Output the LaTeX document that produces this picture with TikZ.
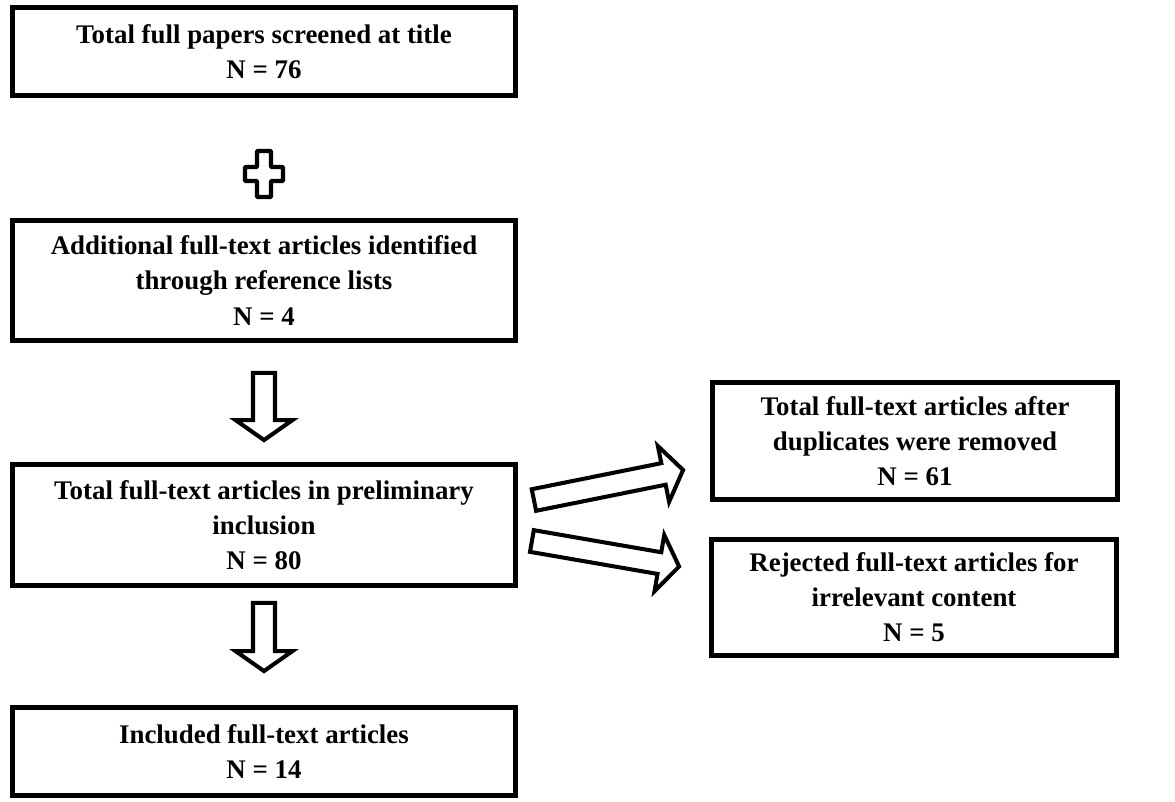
\documentclass[tikz,border=0pt]{standalone}
\usepackage{fontspec}
\setmainfont{Liberation Serif}
\usepackage{tikz}
\usetikzlibrary{calc}
\usetikzlibrary{positioning}

\tikzset{
  flowbox/.style={draw, line width=2.8pt, align=center, inner sep=2pt,
    font=\bfseries\fontsize{15.3}{20}\selectfont},
  leftbox/.style={flowbox, minimum width=10.06cm},
  rightbox/.style={flowbox, minimum width=8.1cm},
  blockarrow/.style={line width=2.3pt, line join=miter, to path={
    ($(\tikztotarget)!0.4cm!(\tikztostart)$) coordinate (ba-base)
    ($(\tikztostart)!0.22cm!90:(\tikztotarget)$) -- ($(ba-base)!0.22cm!90:(\tikztotarget)$)
    -- ($(ba-base)!0.57cm!90:(\tikztotarget)$) -- (\tikztotarget)
    -- ($(ba-base)!0.57cm!-90:(\tikztotarget)$) -- ($(ba-base)!0.22cm!-90:(\tikztotarget)$)
    -- ($(\tikztostart)!0.22cm!-90:(\tikztotarget)$) -- cycle}}
}

\begin{document}
\begin{tikzpicture}[x=0.02cm, y=-0.02cm]
\useasboundingbox (0,0) rectangle (1175,801);

\node[leftbox, minimum height=1.76cm] (total) at (264,51.5)
  {Total full papers screened at title\\N = 76};
\node[leftbox, minimum height=2.4cm] (additional) at (264,280.5)
  {Additional full-text articles identified\\through reference lists\\N = 4};
\node[leftbox, minimum height=2.42cm] (prelim) at (264,525)
  {Total full-text articles in preliminary\\inclusion\\N = 80};
\node[leftbox, minimum height=1.76cm] (included) at (264,751.5)
  {Included full-text articles\\N = 14};
\node[rightbox, minimum height=2.34cm] (dupl) at (915,441)
  {Total full-text articles after\\duplicates were removed\\N = 61};
\node[rightbox, minimum height=2.32cm] (rejected) at (914,597.5)
  {Rejected full-text articles for\\irrelevant content\\N = 5};

% plus sign
\coordinate (plus) at (264,174);
\draw[line width=2.5pt, rounded corners=0.5pt] (plus) ++(-7,-23) -- ++(14,0) -- ++(0,16)
  -- ++(12,0) -- ++(0,14) -- ++(-12,0) -- ++(0,16) -- ++(-14,0) -- ++(0,-16)
  -- ++(-12,0) -- ++(0,-14) -- ++(12,0) -- cycle;

% block arrows
\draw[blockarrow] ([yshift=-0.6cm]additional.south) to ([yshift=0.44cm]prelim.north);
\draw[blockarrow] ([yshift=-0.3cm]prelim.south) to ([yshift=0.68cm]included.north);
\draw[blockarrow] ([shift={(16,-25)}]prelim.east) to ([shift={(-27,29)}]dupl.west);
\draw[blockarrow] ([shift={(14,16)}]prelim.east) to ([shift={(-30,-31)}]rejected.west);
\end{tikzpicture}
\end{document}
